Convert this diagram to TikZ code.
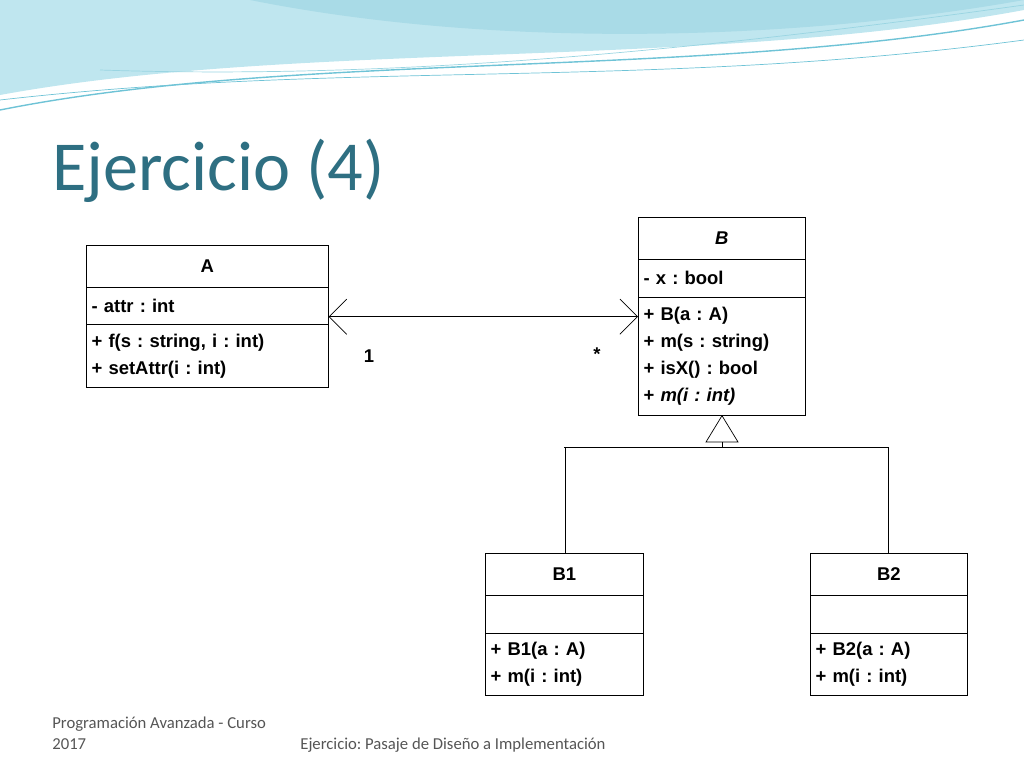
\documentclass[tikz,border=0pt]{standalone}
\usepackage{fontspec}
\setmainfont{Carlito}
\newfontfamily\umlfont{Liberation Sans}
\usetikzlibrary{arrows.meta,positioning}
\frenchspacing
\definecolor{titleteal}{HTML}{2E6F82}
\definecolor{wavea}{HTML}{BFE6EF}
\definecolor{waveb}{HTML}{6FC3D6}
\definecolor{footgray}{HTML}{555555}
\tikzset{
  umlhead/.style={draw,anchor=north west,inner sep=0pt,font=\umlfont\fontsize{10.5}{15.3}\selectfont\bfseries},
  umlpart/.style={draw,anchor=north west,inner sep=0pt,inner xsep=3pt,align=left,font=\umlfont\fontsize{10.5}{15.3}\selectfont\bfseries},
  assoc/.style={{Straight Barb[length=10pt,width=20pt]}-{Straight Barb[length=10pt,width=20pt]}},
}
\begin{document}
\begin{tikzpicture}[x=0.02cm,y=-0.02cm]
  \useasboundingbox (0,0) rectangle (1024,768);
  % header waves
  \fill[wavea] (0,0) -- (0,95) .. controls (300,40) and (700,70) .. (1024,10) -- (1024,0) -- cycle;
  \fill[waveb!60] (250,0) .. controls (500,50) and (800,40) .. (1024,0) -- cycle;
  \draw[waveb,thick] (0,110) .. controls (300,50) and (700,80) .. (1024,20);
  \draw[waveb] (0,100) .. controls (350,60) and (650,90) .. (1024,40);
  \draw[waveb!70] (100,70) .. controls (400,80) and (700,50) .. (1024,5);
  % title
  \node[anchor=base west,inner sep=0pt,text=titleteal,font=\fontsize{40}{46}\selectfont] (title) at (52,190) {Ejercicio (4)};
  % class A
  \node[umlhead,minimum width=4.84cm,minimum height=0.84cm] (Ahead) at (86,245) {A};
  \node[umlpart,minimum width=4.84cm,text width=4.84cm-6pt,minimum height=0.74cm] (Aattr) at (86,287) {- attr : int};
  \node[umlpart,minimum width=4.84cm,text width=4.84cm-6pt,minimum height=1.26cm] (Aops) at (86,324) {+ f(s : string, i : int)\\+ setAttr(i : int)};
  % class B
  \node[umlhead,minimum width=3.34cm,minimum height=0.84cm] (Bhead) at (638,217) {\itshape B};
  \node[umlpart,minimum width=3.34cm,text width=3.34cm-6pt,minimum height=0.76cm] (Battr) at (638,259) {- x : bool};
  \node[umlpart,minimum width=3.34cm,text width=3.34cm-6pt,minimum height=2.36cm] (Bops) at (638,297) {+ B(a : A)\\+ m(s : string)\\+ isX() : bool\\+ \itshape m(i : int)};
  % class B1
  \node[umlhead,minimum width=3.16cm,minimum height=0.84cm] (B1head) at (485,553) {B1};
  \node[umlpart,minimum width=3.16cm,minimum height=0.76cm] (B1attr) at (485,595) {};
  \node[umlpart,minimum width=3.16cm,text width=3.16cm-6pt,minimum height=1.24cm] (B1ops) at (485,633) {+ B1(a : A)\\+ m(i : int)};
  % class B2
  \node[umlhead,minimum width=3.14cm,minimum height=0.84cm] (B2head) at (810,553) {B2};
  \node[umlpart,minimum width=3.14cm,minimum height=0.76cm] (B2attr) at (810,595) {};
  \node[umlpart,minimum width=3.14cm,text width=3.14cm-6pt,minimum height=1.24cm] (B2ops) at (810,633) {+ B2(a : A)\\+ m(i : int)};
  % association
  \coordinate (aend) at (Aattr.south east);
  \coordinate (bend) at (Battr.south west |- aend);
  \draw[assoc] ([yshift=0.16cm]aend) -- ([yshift=0.16cm]bend);
  \node[font=\umlfont\fontsize{10.5}{12}\selectfont\bfseries] (one) at (369,356) {1};
  \node[font=\umlfont\fontsize{10.5}{12}\selectfont\bfseries] (many) at (597,354) {*};
  % generalization
  \coordinate (tri) at (722,442);
  \coordinate (split) at (722,447);
  \draw (Bops.south -| tri) -- (706,442) -- (738,442) -- cycle;
  \draw (tri) -- (split);
  \draw (split -| B1head.north) -- (split -| 888,0) -- (888,553);
  \draw (split -| 565,0) -- (565,553);
  % footer
  \node[anchor=base west,inner sep=0pt,text=footgray,font=\fontsize{9.5}{12}\selectfont] (foot1) at (52,728) {Programación Avanzada - Curso};
  \node[anchor=base west,inner sep=0pt,text=footgray,font=\fontsize{9.5}{12}\selectfont] (foot2) at (52,749) {2017};
  \node[anchor=base west,inner sep=0pt,text=footgray,font=\fontsize{9.5}{12}\selectfont] (foot3) at (300,749) {Ejercicio: Pasaje de Diseño a Implementación};
\end{tikzpicture}
\end{document}
